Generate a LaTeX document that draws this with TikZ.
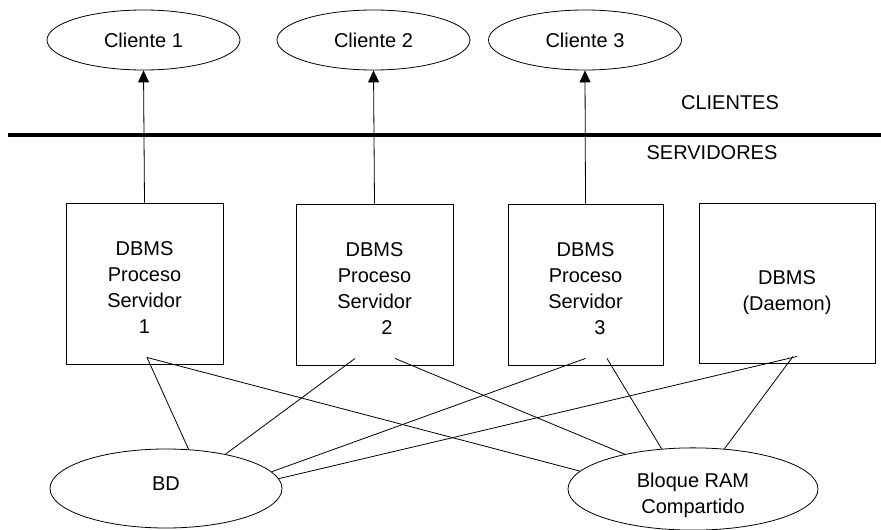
\documentclass[tikz,border=0pt]{standalone}
\usepackage{fontspec}
\setmainfont{Liberation Sans}
\usetikzlibrary{arrows.meta,shapes.geometric,positioning}
\tikzset{
  cliente/.style={draw, ellipse, line width=0.8pt, inner sep=0pt,
                  minimum width=193pt, minimum height=60pt},
  almacen/.style={draw, ellipse, line width=0.8pt, inner sep=0pt,
                  align=center, minimum width=#1, minimum height=80pt},
  srvbox/.style={draw, line width=0.9pt, inner sep=0pt, align=center,
                 minimum width=#1, minimum height=161pt, text height=100pt},
  srvbox/.default=157pt,
  arr/.style={-{Triangle[length=12pt,width=11pt]}, line width=0.8pt},
  lnk/.style={line width=0.8pt},
  sepline/.style={line width=3.5pt},
}

\begin{document}
\begin{tikzpicture}[x=1pt, y=-1pt, font=\fontsize{20}{26}\selectfont]
\useasboundingbox (0,0) rectangle (881,530);

%% ─── Clientes ────────────────────────────────────────────────────────────────
\foreach \i/\x in {1/143.5, 2/373.5, 3/585}{
  \node[cliente] (C\i) at (\x,40) {Cliente \i};
}

%% ─── Separador ───────────────────────────────────────────────────────────────
\coordinate (SepL) at (8,135);
\coordinate (SepR) at (881,135);
\draw[sepline] (SepL) -- (SepR);
\node (lblC) at (730,103) {CLIENTES};
\node (lblS) at (712,153) {SERVIDORES};

%% ─── Procesos servidores ─────────────────────────────────────────────────────
\node[srvbox] (P1) at (144.5,283.5) {DBMS\\Proceso\\Servidor\\1};
\node[srvbox] (P2) at (374.5,284.5) {DBMS\\Proceso\\Servidor\\\hspace*{25pt}2};
\node[srvbox=155pt] (P3) at (585.5,284.5) {DBMS\\Proceso\\Servidor\\\hspace*{29pt}3};
\node[srvbox=176pt, minimum height=160pt, text height=60pt] (P4) at (787,283)
  {DBMS\\(Daemon)};

\foreach \i in {1,2,3}{
  \draw[arr] (P\i.north) -- (C\i.south);
}

%% ─── Memoria y base de datos ─────────────────────────────────────────────────
\node[almacen=232pt, minimum height=79pt, text depth=10pt] (BD) at (166,488.5) {BD};
\node[almacen=250pt, minimum height=82pt, text height=54pt] (RAM) at (693,489)
  {Bloque RAM\\Compartido};

\foreach \p/\dx/\e in {P1/2.5/BD.60, P1/2.5/RAM.171, P2/-19.5/BD.30,
                       P2/20.5/RAM.153, P3/0/BD.9, P3/21.5/RAM.128,
                       P4/10/BD.5, P4/6/RAM.52}{
  \draw[lnk] ([xshift=\dx pt, yshift=7pt]\p.south) -- (\e);
}

\end{tikzpicture}
\end{document}
